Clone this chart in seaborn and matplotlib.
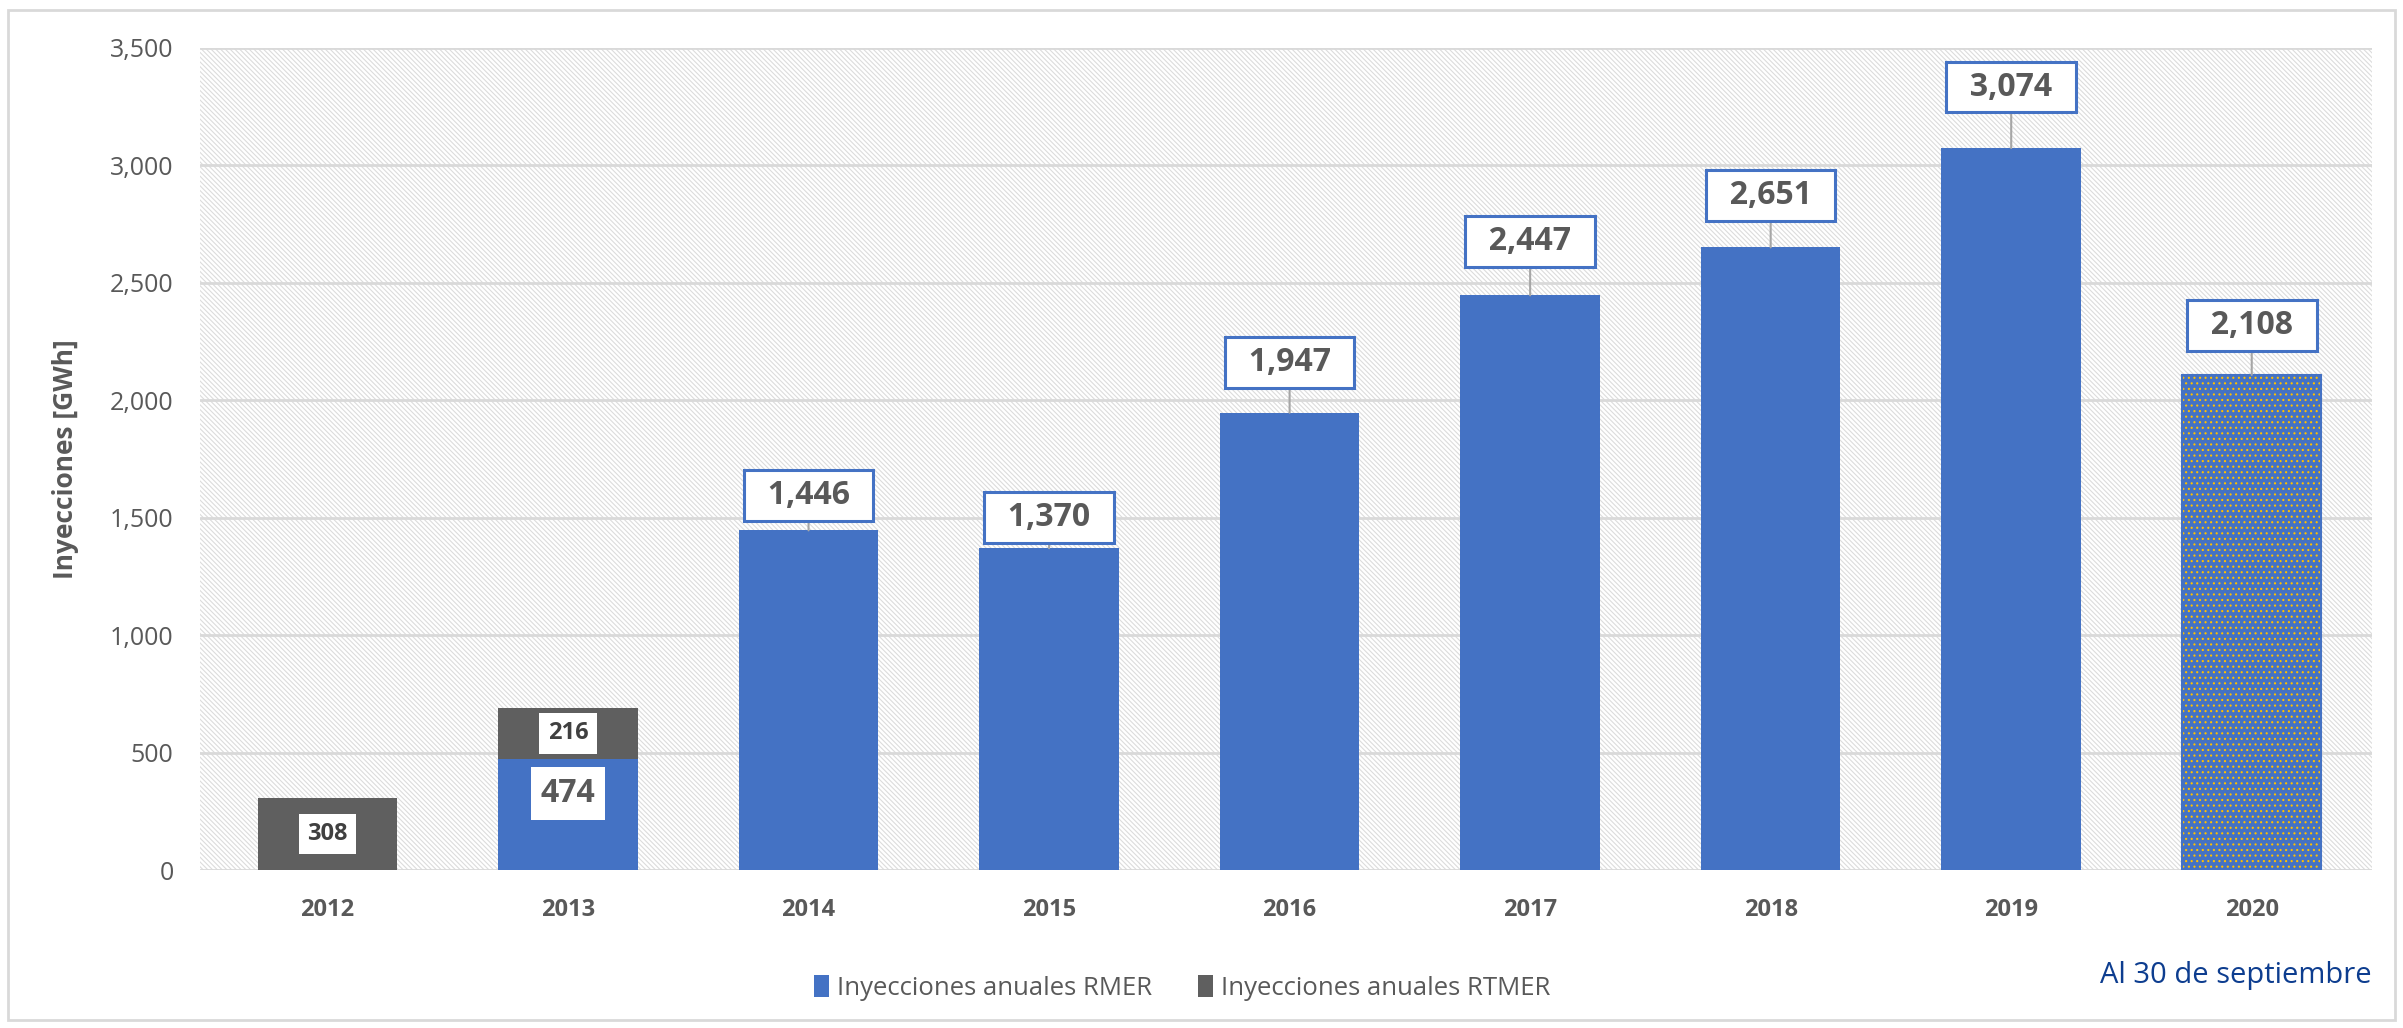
import matplotlib
matplotlib.use("Agg")
import matplotlib.pyplot as plt
import seaborn as sns
import pandas as pd
from matplotlib.patches import Rectangle

# ---- data ----
years = ["2012", "2013", "2014", "2015", "2016", "2017", "2018", "2019", "2020"]
rmer = [0, 474, 1446, 1370, 1947, 2447, 2651, 3074, 2108]
rtmer = [308, 216, 0, 0, 0, 0, 0, 0, 0]
yticks = [0, 500, 1000, 1500, 2000, 2500, 3000, 3500]
legend_labels = ["Inyecciones anuales RMER", "Inyecciones anuales RTMER"]
note_text = "Al 30 de septiembre"
ylabel_text = "Inyecciones [GWh]"

# ---- style ----
BLUE = "#4472C4"
GRAY = "#5F5F5F"
TXT = "#595959"
GRID = "#D9D9D9"
label_offsets_px = [0, 0, 35, 31, 50, 54, 52, 61, 49]

df = pd.DataFrame({"year": years, "rmer": rmer, "rtmer": rtmer})
df["total"] = df["rmer"] + df["rtmer"]

sns.set_theme(style="white")
plt.rcParams["font.family"] = ["Open Sans", "DejaVu Sans"]
plt.rcParams["hatch.linewidth"] = 0.8

fig = plt.figure(figsize=(24.03, 10.28), dpi=100)
ax = fig.add_axes([200 / 2403, 1 - 870 / 1028, (2372 - 200) / 2403, (870 - 48) / 1028])

# background hatch
ax.patch.set_facecolor("white")
ax.patch.set_hatch("\\" * 7)
ax.patch.set_edgecolor("#DCDCDC")
ax.patch.set_linewidth(0)

sns.barplot(data=df, x="year", y="total", order=years, color=GRAY, saturation=1,
            width=0.58, ax=ax, errorbar=None, zorder=3, linewidth=0)
sns.barplot(data=df, x="year", y="rmer", order=years, color=BLUE, saturation=1,
            width=0.58, ax=ax, errorbar=None, zorder=3, linewidth=0)

rmer_bars = ax.containers[1]
# 2020 partial-year bar with yellow dotted pattern
last = rmer_bars[len(years) - 1]
last.set_hatch("...")
last.set_edgecolor("#FFC000")
last.set_linewidth(0)
ax.add_patch(Rectangle(last.get_xy(), last.get_width(), last.get_height(),
                       fill=False, edgecolor=BLUE, lw=1.5, zorder=4))

ax.set_ylim(0, 3500)
ax.set_xlim(-0.53, 8.5)
ax.set_yticks(yticks)
ax.set_yticklabels([f"{v:,}" for v in yticks], fontsize=18, color=TXT)
ax.yaxis.grid(True, color=GRID, lw=2, zorder=1)
ax.set_axisbelow(True)
for s in ax.spines.values():
    s.set_visible(False)
ax.tick_params(axis="y", length=0, pad=19)
ax.tick_params(axis="x", length=0, pad=20)
for t in ax.get_xticklabels():
    t.set_fontsize(17)
    t.set_fontweight("bold")
    t.set_color(TXT)
ax.set_xlabel("")
ax.set_ylabel(ylabel_text, fontsize=19, fontweight="bold", color=TXT, labelpad=22)

# labels above RMER bars (boxed with leader line)
for i, (v, off) in enumerate(zip(rmer, label_offsets_px)):
    if rtmer[i] > 0 or v == 0:
        continue
    ax.annotate(f" \u2009{v:,}\u2009 ", xy=(i, v), xytext=(0, off * 0.72), textcoords="offset points",
                ha="center", va="center", fontsize=23, fontweight="bold", color=TXT,
                bbox=dict(boxstyle="square,pad=0.28", fc="white", ec=BLUE, lw=2.2),
                arrowprops=dict(arrowstyle="-", color="#A6A6A6", lw=1.5,
                                shrinkA=0, shrinkB=0),
                zorder=6)

# inner labels for stacked bars
for i in range(len(years)):
    if rtmer[i] > 0:
        ax.annotate(f"{rtmer[i]:,}", xy=(i, rmer[i] + rtmer[i] / 2), ha="center", va="center",
                    fontsize=17, fontweight="bold", color="#404040",
                    bbox=dict(boxstyle="square,pad=0.35", fc="white", ec="none"), zorder=6)
        if rmer[i] > 0:
            ax.annotate(f"{rmer[i]:,}", xy=(i, rmer[i] / 2), xytext=(0, 15),
                        textcoords="offset points", ha="center", va="center",
                        fontsize=23, fontweight="bold", color=TXT,
                        bbox=dict(boxstyle="square,pad=0.3", fc="white", ec="none"), zorder=6)

# legend
handles = [Rectangle((0, 0), 1, 1, fc=BLUE, ec="none"), Rectangle((0, 0), 1, 1, fc=GRAY, ec="none")]
leg = fig.legend(handles, legend_labels, loc="center", bbox_to_anchor=(1182 / 2403, 1 - 988 / 1028),
                 ncol=2, frameon=False, fontsize=18.5, handlelength=0.6, handleheight=0.9,
                 handletextpad=0.3, columnspacing=1.8)
for t in leg.get_texts():
    t.set_color(TXT)

fig.text(2372 / 2403, 1 - 976 / 1028, note_text, ha="right", va="center",
         fontsize=21, color="#0D3D8F")

# figure border
fig.add_artist(Rectangle((8 / 2403, 1 - 1020 / 1028), (2395 - 8) / 2403, (1020 - 10) / 1028,
                         transform=fig.transFigure, fill=False, ec="#D9D9D9", lw=2))

fig.savefig("out.png", dpi=100)
